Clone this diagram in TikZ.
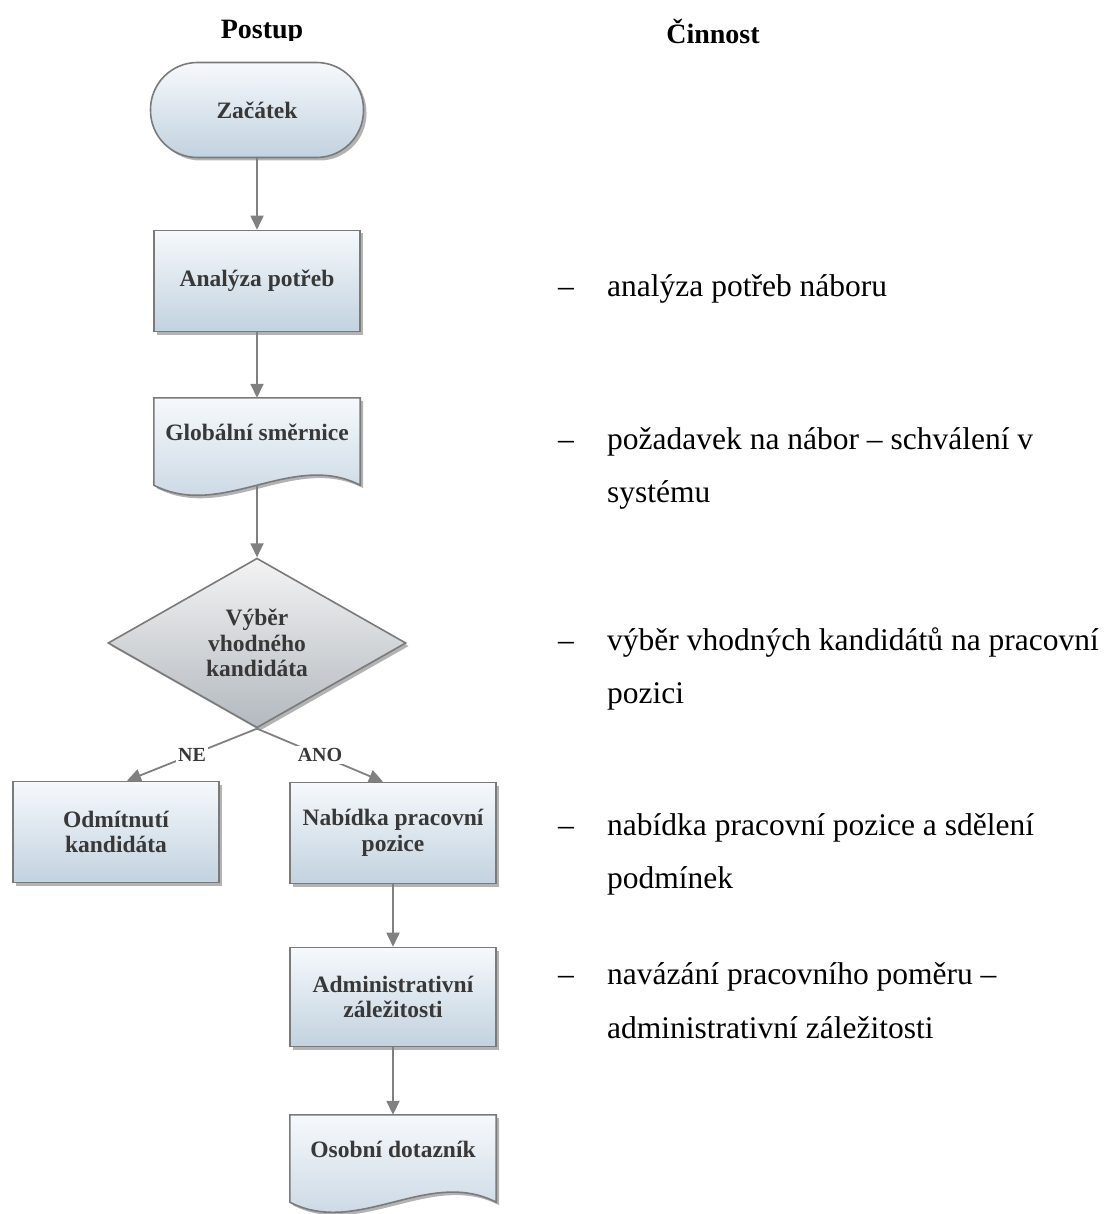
\documentclass[tikz,border=0pt]{standalone}
\usepackage{fontspec}
\setmainfont{Liberation Serif}
\usetikzlibrary{shapes.geometric,shadows,arrows.meta,calc}
\definecolor{boxtop}{HTML}{F6F9FC}
\definecolor{boxbot}{HTML}{C2D2DF}
\definecolor{edge}{HTML}{7A7A7A}
\definecolor{arr}{HTML}{808080}
\definecolor{txt}{HTML}{383838}
\definecolor{diatop}{HTML}{F3F3F3}
\definecolor{diabot}{HTML}{B3B9BF}
\tikzset{
  shad/.style={drop shadow={shadow xshift=3pt,shadow yshift=-3pt,fill=black!50,opacity=0.6}},
  boxtxt/.style={font=\bfseries\fontsize{23.5}{25.5}\selectfont,text=txt,align=center},
  procbox/.style={rectangle,draw=edge,line width=1.6pt,top color=boxtop,bottom color=boxbot,shad,
    minimum width=206pt,minimum height=101pt,inner sep=0pt,boxtxt},
  docbox/.style={rectangle,draw=none,minimum width=206pt,minimum height=87pt,inner sep=0pt},
  docpath/.style={draw=edge,line width=1.6pt,top color=boxtop,bottom color=boxbot,shad},
  conn/.style={draw=arr,line width=1.8pt,-{Triangle[length=14pt,width=13pt]}},
  rtxt/.style={font=\fontsize{31.5}{53}\selectfont,anchor=base west,inner sep=0pt},
  head/.style={font=\bfseries\fontsize{28}{30}\selectfont,anchor=base,inner sep=0pt},
  yn/.style={font=\bfseries\fontsize{20}{22}\selectfont,text=txt,fill=white,inner sep=2pt}
}
\begin{document}
\begin{tikzpicture}[x=1pt,y=-1pt]
\useasboundingbox (0,0) rectangle (1112,1214);
% headings
\begin{scope}
\clip (150,0) rectangle (400,41);
\node[head] (postup) at (262,39) {Postup};
\end{scope}
\node[head] (cinnost) at (713,44) {Činnost};
% start
\node[rectangle,rounded corners=47pt,draw=edge,line width=1.6pt,top color=boxtop,bottom color=boxbot,shad,
  minimum width=213pt,minimum height=95pt,boxtxt] (start) at (257,110) {Začátek};
% analysis
\node[procbox] (anal) at (257,281) {Analýza potřeb};
% global doc
\node[docbox] (glob) at (257,441.5) {};
\path[docpath] (glob.north west) -- (glob.south west)
  .. controls ($(glob.south west)+(68,35)$) and ($(glob.south east)+(-68,-35)$) .. (glob.south east)
  -- (glob.north east) -- cycle;
\node[boxtxt] (globtxt) at ([yshift=9pt]glob.center) {Globální směrnice};
% diamond
\node[diamond,draw=edge,line width=1.6pt,top color=diatop,bottom color=diabot,shad,
  minimum width=298pt,minimum height=141pt,inner sep=0pt,boxtxt] (dec) at (257,643)
  {Výběr\\vhodného\\kandidáta};
% reject / offer
\node[procbox] (odm) at (116,832) {Odmítnutí\\kandidáta};
\node[procbox] (nab) at (393,833) {Nabídka pracovní\\pozice};
\node[procbox,minimum height=99pt] (adm) at (393,997) {Administrativní\\záležitosti};
% personal doc
\node[docbox] (oso) at (393,1158.5) {};
\path[docpath] (oso.north west) -- (oso.south west)
  .. controls ($(oso.south west)+(68,35)$) and ($(oso.south east)+(-68,-35)$) .. (oso.south east)
  -- (oso.north east) -- cycle;
\node[boxtxt] (osotxt) at ([yshift=9pt]oso.center) {Osobní dotazník};
% connectors
\draw[conn] (start.south) -- (anal.north);
\draw[conn] (anal.south) -- (glob.north);
\draw[conn] (glob.south) -- (dec.north);
\draw[conn] (dec.south) -- node[yn]{NE} ([xshift=11pt]odm.north);
\draw[conn] (dec.south) -- node[yn]{ANO} ([xshift=-10pt]nab.north);
\draw[conn] (nab.south) -- (adm.north);
\draw[conn] (adm.south) -- (oso.north);
% right column
\node[rtxt] (d1) at (558,297) {–};
\node[rtxt] (t1) at (607,297) {analýza potřeb náboru};
\node[rtxt] (d2) at (558,449) {–};
\node[rtxt] (t2a) at (607,449) {požadavek na nábor – schválení v};
\node[rtxt] (t2b) at (607,502) {systému};
\node[rtxt] (d3) at (558,650) {–};
\node[rtxt] (t3a) at (607,650) {výběr vhodných kandidátů na pracovní};
\node[rtxt] (t3b) at (607,703) {pozici};
\node[rtxt] (d4) at (558,835) {–};
\node[rtxt] (t4a) at (607,835) {nabídka pracovní pozice a sdělení};
\node[rtxt] (t4b) at (607,888) {podmínek};
\node[rtxt] (d5) at (558,984) {–};
\node[rtxt] (t5a) at (607,984) {navázání pracovního poměru –};
\node[rtxt] (t5b) at (607,1038) {administrativní záležitosti};
\end{tikzpicture}
\end{document}
